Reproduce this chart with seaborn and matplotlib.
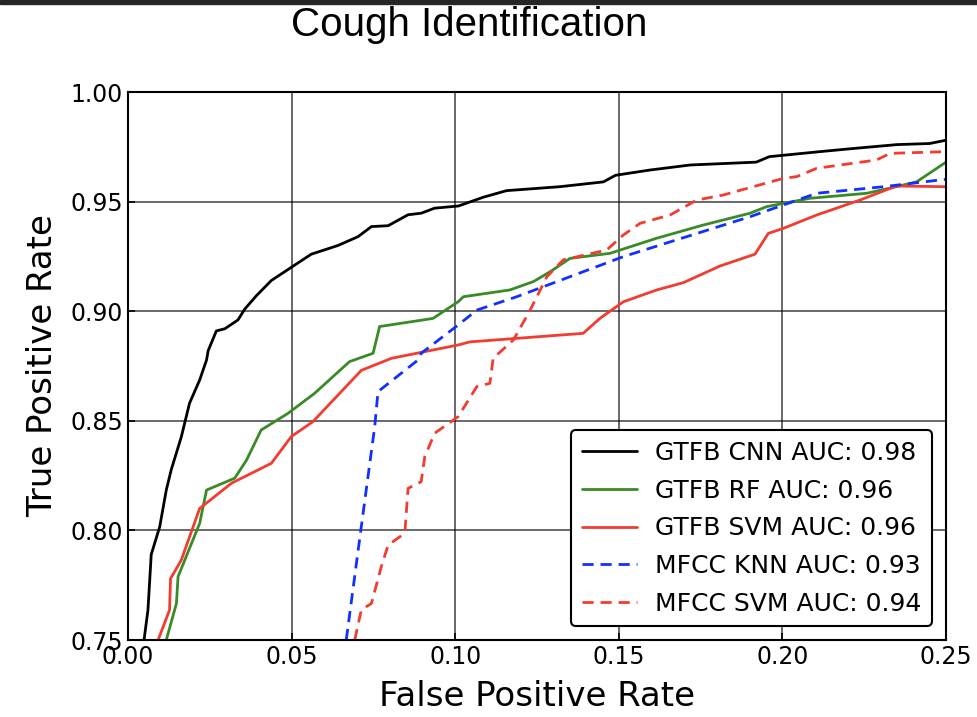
import numpy as np
import pandas as pd
import seaborn as sns
import matplotlib
matplotlib.use("Agg")
import matplotlib.pyplot as plt
from matplotlib.patches import Rectangle

title = "Cough Identification"
xlabel = "False Positive Rate"
ylabel = "True Positive Rate"

cnn_fpr = [0.0049, 0.0061, 0.0071, 0.0097, 0.0117, 0.0132, 0.0163, 0.0188, 0.0219, 0.024, 0.0245, 0.027, 0.0296,
           0.0336, 0.0357, 0.0392, 0.0438, 0.0499, 0.056, 0.0642, 0.0703, 0.0744, 0.0795, 0.0856, 0.0896, 0.0937,
           0.101, 0.1086, 0.1157, 0.132, 0.1453, 0.149, 0.1595, 0.1718, 0.192, 0.196, 0.2115, 0.22, 0.235, 0.245, 0.25]
cnn_tpr = [0.75, 0.7637, 0.789, 0.8017, 0.8184, 0.8276, 0.8427, 0.858, 0.8686, 0.8777, 0.882, 0.891, 0.892,
           0.896, 0.901, 0.907, 0.914, 0.920, 0.926, 0.930, 0.934, 0.9386, 0.939, 0.944, 0.9447, 0.947,
           0.948, 0.952, 0.955, 0.9568, 0.959, 0.962, 0.9644, 0.9667, 0.968, 0.9705, 0.9728, 0.974, 0.976, 0.9765, 0.978]

rf_fpr = [0.0117, 0.0148, 0.0153, 0.0219, 0.024, 0.0326, 0.0362, 0.0407, 0.0489, 0.057, 0.0677, 0.0749, 0.0769,
          0.0932, 0.1009, 0.1025, 0.1167, 0.1239, 0.129, 0.1351, 0.1473, 0.1616, 0.1758, 0.1901, 0.1952, 0.2084,
          0.2258, 0.2339, 0.241, 0.25]
rf_tpr = [0.75, 0.7667, 0.7789, 0.8032, 0.8184, 0.8238, 0.832, 0.8458, 0.8534, 0.8625, 0.877, 0.8808, 0.893,
          0.8967, 0.9043, 0.9066, 0.9097, 0.9135, 0.918, 0.9241, 0.9264, 0.9333, 0.9393, 0.9447, 0.9477, 0.9515,
          0.9538, 0.9565, 0.959, 0.968]

svm_fpr = [0.0092, 0.0127, 0.013, 0.0163, 0.0219, 0.0316, 0.0438, 0.0499, 0.0565, 0.0713, 0.0805, 0.1009, 0.1045,
           0.1391, 0.1443, 0.1514, 0.1616, 0.1697, 0.1809, 0.1916, 0.1957, 0.2003, 0.2105, 0.2237, 0.2329, 0.2349, 0.25]
svm_tpr = [0.75, 0.7637, 0.778, 0.7865, 0.81, 0.8215, 0.8306, 0.8428, 0.8496, 0.873, 0.8785, 0.8846, 0.886,
           0.8899, 0.8968, 0.9043, 0.9097, 0.913, 0.9206, 0.926, 0.9355, 0.9378, 0.9439, 0.9507, 0.956, 0.9571, 0.9568]

knn_fpr = [0.0667, 0.0713, 0.0754, 0.0764, 0.0886, 0.0896, 0.1009, 0.1066, 0.1188, 0.1514, 0.1901, 0.2105, 0.231, 0.25]
knn_tpr = [0.75, 0.8017, 0.8473, 0.8633, 0.8777, 0.8808, 0.8937, 0.9005, 0.9066, 0.9249, 0.9431, 0.9538, 0.9568, 0.9602]

msvm_fpr = [0.0693, 0.0713, 0.0744, 0.0774, 0.0795, 0.0846, 0.0856, 0.0896, 0.0907, 0.0937, 0.1009, 0.1066, 0.1106,
            0.1116, 0.1178, 0.1229, 0.128, 0.133, 0.1463, 0.1514, 0.1565, 0.1657, 0.1738, 0.1819, 0.2003, 0.2044,
            0.2105, 0.2288, 0.2329, 0.25]
msvm_tpr = [0.75, 0.7637, 0.7667, 0.7834, 0.7933, 0.7987, 0.8192, 0.8222, 0.8336, 0.8443, 0.8519, 0.8656, 0.8671,
            0.8785, 0.8869, 0.9005, 0.9157, 0.9234, 0.9279, 0.9348, 0.9401, 0.9439, 0.9507, 0.953, 0.9606, 0.9614,
            0.9652, 0.969, 0.972, 0.9728]

series_names = ["GTFB CNN AUC: 0.98", "GTFB RF AUC: 0.96", "GTFB SVM AUC: 0.96",
                "MFCC KNN AUC: 0.93", "MFCC SVM AUC: 0.94"]
series_data = [(cnn_fpr, cnn_tpr), (rf_fpr, rf_tpr), (svm_fpr, svm_tpr), (knn_fpr, knn_tpr), (msvm_fpr, msvm_tpr)]
colors = ["#000000", "#3a8a28", "#f23c30", "#1030ff", "#f23c30"]
dashed = [False, False, False, True, True]

x_ticks = [0.00, 0.05, 0.10, 0.15, 0.20, 0.25]
y_ticks = [0.75, 0.80, 0.85, 0.90, 0.95, 1.00]

sns.set_style("white")
plt.rcParams["font.family"] = ["DejaVu Sans"]
plt.rcParams["text.color"] = "black"
plt.rcParams["axes.labelcolor"] = "black"

fig = plt.figure(figsize=(9.78, 7.17), dpi=100)
ax = fig.add_axes([128 / 978, 1 - 640 / 717, (946 - 128) / 978, (640 - 92) / 717])

for name, (fx, ty), c, d in zip(series_names, series_data, colors, dashed):
    df = pd.DataFrame({"fpr": fx, "tpr": ty})
    sns.lineplot(data=df, x="fpr", y="tpr", ax=ax, color=c, sort=False, estimator=None,
                 linewidth=2.0, label=name, linestyle="--" if d else "-")

for line, d in zip(ax.get_lines(), dashed):
    if d:
        line.set_dashes((4, 2.5))

ax.set_xlim(0, 0.25)
ax.set_ylim(0.75, 1.0)
ax.set_xticks(x_ticks)
ax.set_yticks(y_ticks)
ax.set_xticklabels([f"{v:.2f}" for v in x_ticks])
ax.set_yticklabels([f"{v:.2f}" for v in y_ticks])
ax.grid(True, color="black", linewidth=1.1, alpha=0.75)
ax.tick_params(direction="in", length=5, width=1.2, labelsize=17, colors="black",
               labelcolor="black", left=True, bottom=True)
for s in ax.spines.values():
    s.set_color("black")
    s.set_linewidth(1.5)
ax.set_xlabel(xlabel, fontsize=24.5, labelpad=8, color="black")
ax.set_ylabel(ylabel, fontsize=24.5, labelpad=8, color="black")

leg = ax.legend(loc="lower right", fontsize=18, frameon=True, fancybox=True,
                borderpad=0.42, labelspacing=0.55, handlelength=2.2, handletextpad=0.75,
                bbox_to_anchor=(1.0, 0.0), borderaxespad=0.55)
leg.get_frame().set_edgecolor("black")
leg.get_frame().set_linewidth(1.5)
leg.get_frame().set_alpha(1)
for t in leg.get_texts():
    t.set_color("black")
for lh, d in zip(leg.get_lines(), dashed):
    if d:
        lh.set_dashes((4, 2.5))

fig.text(0.48, 0.965, title, ha="center", va="center", fontsize=29, color="black",
         family=["Liberation Sans Narrow", "Liberation Sans", "DejaVu Sans"])
fig.patches.append(Rectangle((0, 1 - 4 / 717), 1, 4 / 717, transform=fig.transFigure,
                             color="#262626", zorder=10))

fig.savefig("out.png", dpi=100)
